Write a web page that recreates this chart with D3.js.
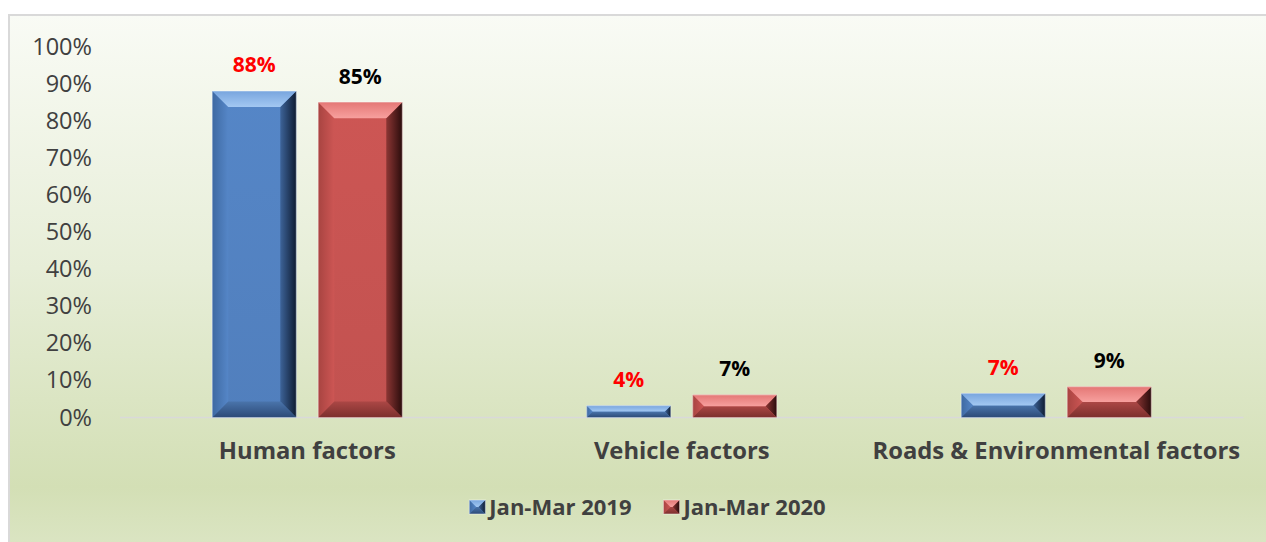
<!DOCTYPE html>
<html>
<head>
<meta charset="utf-8">
<script src="https://cdn.jsdelivr.net/npm/d3@7"></script>
<style>
  html, body { margin: 0; padding: 0; background: #fff; }
  svg { display: block; font-family: "Open Sans", Lato, sans-serif; }
</style>
</head>
<body>
<div id="container"></div>
<script>
/* DATA */
const categories = ["Human factors", "Vehicle factors", "Roads & Environmental factors"];
const seriesNames = ["Jan-Mar 2019", "Jan-Mar 2020"];
// bar heights (percent)
const values2019 = [88, 3.2, 6.5];
const values2020 = [85, 6.1, 8.3];
// data labels as printed on the chart
const labels2019 = ["88%", "4%", "7%"];
const labels2020 = ["85%", "7%", "9%"];
const yTicks = [0, 10, 20, 30, 40, 50, 60, 70, 80, 90, 100];

/* CONSTANTS */
const width = 1266, height = 542;
const font = "'Open Sans', Lato, sans-serif";

const palette = {
  "Jan-Mar 2019": { face: "#5586c7", topA: "#78a5de", topB: "#a3c8f2", left0: "#3e69a2", left1: "#5586c7",
                    right0: "#3d6398", right1: "#0e1c33", bot0: "#4a74ab", bot1: "#2c4a77", label: "#ff0000" },
  "Jan-Mar 2020": { face: "#cd5654", topA: "#e47775", topB: "#f7a09e", left0: "#a84441", left1: "#cd5654",
                    right0: "#8c3634", right1: "#2a0c0c", bot0: "#ab4745", bot1: "#7c2f2d", label: "#000000" }
};

const rows = categories.map((c, i) => ({
  category: c,
  bars: [
    { series: seriesNames[0], value: values2019[i], label: labels2019[i] },
    { series: seriesNames[1], value: values2020[i], label: labels2020[i] }
  ]
}));

/* SVG */
const svg = d3.select("#container")
  .append("svg")
  .attr("width", width)
  .attr("height", height);

const defs = svg.append("defs");

// background gradient
const bg = defs.append("linearGradient")
  .attr("id", "bg").attr("x1", 0).attr("y1", 0).attr("x2", 0).attr("y2", 1);
bg.append("stop").attr("offset", "0%").attr("stop-color", "#f9fbf5");
bg.append("stop").attr("offset", "45%").attr("stop-color", "#e7eed8");
bg.append("stop").attr("offset", "84%").attr("stop-color", "#d3dfb5");
bg.append("stop").attr("offset", "100%").attr("stop-color", "#dfe8ca");

// facet gradients for each series
function grad(id, vertical, c0, c1) {
  const g = defs.append("linearGradient").attr("id", id)
    .attr("x1", 0).attr("y1", 0)
    .attr("x2", vertical ? 0 : 1).attr("y2", vertical ? 1 : 0);
  g.append("stop").attr("offset", "0%").attr("stop-color", c0);
  g.append("stop").attr("offset", "100%").attr("stop-color", c1);
}
seriesNames.forEach((s, k) => {
  const p = palette[s];
  grad(`top${k}`, true, p.topA, p.topB);
  grad(`left${k}`, false, p.left0, p.left1);
  grad(`right${k}`, false, p.right0, p.right1);
  grad(`bot${k}`, true, p.bot0, p.bot1);
  grad(`face${k}`, true, p.face, d3.color(p.face).darker(0.15));
});

// chart area background + border
svg.append("rect")
  .attr("x", 9).attr("y", 15)
  .attr("width", width + 20).attr("height", height + 20)
  .attr("fill", "url(#bg)")
  .attr("stroke", "#d9d9d9")
  .attr("stroke-width", 2);

/* SCALES */
const x0 = d3.scaleBand()
  .domain(categories)
  .range([120, 1243.5]);

const x1 = d3.scaleBand()
  .domain(seriesNames)
  .range([0, x0.bandwidth()])
  .paddingInner(0.2075)
  .paddingOuter(0.87);

const y = d3.scaleLinear()
  .domain([0, 100])
  .range([417.5, 46.5]);

/* AXES */
svg.append("g")
  .attr("transform", "translate(95,0)")
  .call(d3.axisLeft(y).tickValues(yTicks).tickSize(0).tickPadding(3).tickFormat(d => d + "%"))
  .call(g => g.select(".domain").remove())
  .selectAll("text")
  .attr("font-family", font)
  .attr("font-size", 23.5)
  .attr("fill", "#404040");

svg.append("line")
  .attr("x1", x0.range()[0]).attr("x2", x0.range()[1])
  .attr("y1", y(0)).attr("y2", y(0))
  .attr("stroke", "#d9d9d9")
  .attr("stroke-width", 1.5);

svg.append("g")
  .attr("transform", `translate(0,${y(0)})`)
  .call(d3.axisBottom(x0).tickSize(0))
  .call(g => g.select(".domain").remove())
  .selectAll("text")
  .attr("y", 33.5)
  .attr("dy", "0.35em")
  .attr("font-family", font)
  .attr("font-weight", "bold")
  .attr("font-size", 23.8)
  .attr("fill", "#404040");

/* BEVELED BAR */
function bevel(g, x, yTop, w, h, k, maxB) {
  const b = Math.min(maxB, h / 2, w / 2);
  const x2 = x + w, y2 = yTop + h;
  const poly = pts => pts.map(p => p.join(",")).join(" ");
  g.append("rect").attr("x", x).attr("y", yTop).attr("width", w).attr("height", h)
    .attr("fill", `url(#face${k})`);
  g.append("polygon").attr("fill", `url(#left${k})`)
    .attr("points", poly([[x, yTop], [x + b, yTop + b], [x + b, y2 - b], [x, y2]]));
  g.append("polygon").attr("fill", `url(#right${k})`)
    .attr("points", poly([[x2, yTop], [x2 - b, yTop + b], [x2 - b, y2 - b], [x2, y2]]));
  g.append("polygon").attr("fill", `url(#bot${k})`)
    .attr("points", poly([[x, y2], [x + b, y2 - b], [x2 - b, y2 - b], [x2, y2]]));
  g.append("polygon").attr("fill", `url(#top${k})`)
    .attr("points", poly([[x, yTop], [x + b, yTop + b], [x2 - b, yTop + b], [x2, yTop]]));
  g.append("rect").attr("x", x).attr("y", yTop).attr("width", w).attr("height", h)
    .attr("fill", "none").attr("stroke", "rgba(255,255,255,0.45)").attr("stroke-width", 1);
}

/* DRAW BARS */
const groups = svg.selectAll(".cat")
  .data(rows)
  .join("g")
  .attr("class", "cat")
  .attr("transform", d => `translate(${x0(d.category)},0)`);

groups.each(function(d) {
  const g = d3.select(this);
  d.bars.forEach(bar => {
    const k = seriesNames.indexOf(bar.series);
    const bx = x1(bar.series);
    const top = y(bar.value);
    bevel(g.append("g"), bx, top, x1.bandwidth(), y(0) - top, k, 16);
    g.append("text")
      .attr("x", bx + x1.bandwidth() / 2)
      .attr("y", top - 26)
      .attr("dy", "0.35em")
      .attr("text-anchor", "middle")
      .attr("font-family", font)
      .attr("font-weight", "bold")
      .attr("font-size", 21)
      .attr("fill", palette[bar.series].label)
      .text(bar.label);
  });
});

/* LEGEND */
const legend = svg.append("g");
let cursor = 0;
seriesNames.forEach((s, k) => {
  const item = legend.append("g").attr("transform", `translate(${cursor},0)`);
  bevel(item.append("g"), 0, -7, 16, 14, k, 7);
  const t = item.append("text")
    .attr("x", 20).attr("y", 0).attr("dy", "0.35em")
    .attr("font-family", font)
    .attr("font-weight", "bold")
    .attr("font-size", 22)
    .attr("fill", "#404040")
    .text(s);
  cursor += 20 + t.node().getComputedTextLength() + 32;
});
const legendW = cursor - 32;
legend.attr("transform", `translate(${647.5 - legendW / 2},507)`);
</script>
</body>
</html>
